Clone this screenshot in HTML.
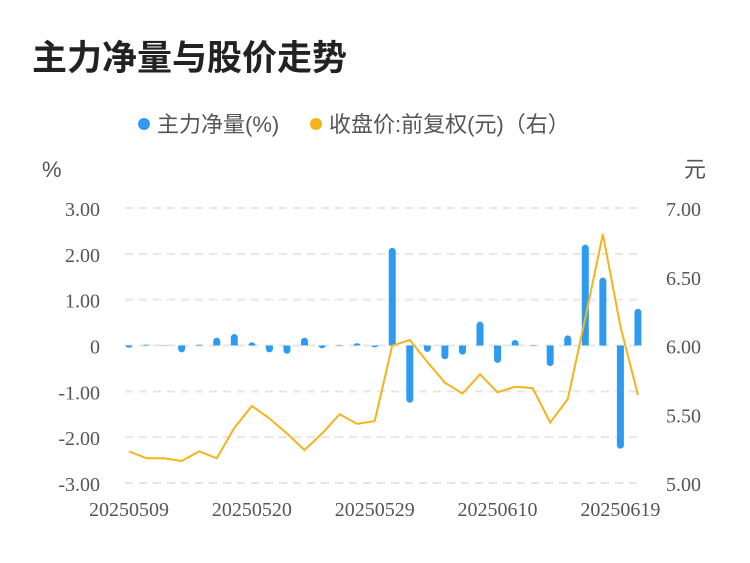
<!DOCTYPE html>
<html><head><meta charset="utf-8"><style>
body{margin:0;background:#fff;width:750px;height:558px;overflow:hidden;font-family:"Liberation Sans","Noto Sans CJK SC",sans-serif}
</style></head><body>
<svg width="750" height="558" xmlns="http://www.w3.org/2000/svg">
<text x="32" y="70" font-size="35" font-weight="bold" fill="#222" font-family="Liberation Sans,Noto Sans CJK SC,sans-serif">主力净量与股价走势</text>
<g font-size="22" fill="#555" font-family="Liberation Sans,Noto Sans CJK SC,sans-serif">
<circle cx="144" cy="124" r="6" fill="#2e9bf0"/>
<text x="157" y="132">主力净量(%)</text>
<circle cx="316" cy="124" r="6" fill="#f6b31b"/>
<text x="329" y="132">收盘价:前复权(元)（右）</text>
</g>
<text x="42" y="177" font-size="22" fill="#555">%</text>
<text x="684" y="177" font-size="22" fill="#555" font-family="Liberation Sans,Noto Sans CJK SC,sans-serif">元</text>
<g id="grid"></g><g id="bars"></g><g id="line"></g><g id="axes"></g>
</svg>
<script>
const categories=["20250509","","","","","","","20250520","","","","","","","20250529","","","","","","","20250610","","","","","","","20250619",""];
const netValues=[-0.05,0.02,0.01,-0.15,0.02,0.17,0.25,0.07,-0.15,-0.18,0.17,-0.06,0.01,0.05,-0.04,2.13,-1.25,-0.14,-0.3,-0.2,0.52,-0.38,0.12,0.01,-0.45,0.22,2.2,1.48,-2.25,0.8];
const priceValues=[5.23,5.18,5.18,5.16,5.23,5.18,5.40,5.56,5.47,5.36,5.24,5.36,5.50,5.43,5.45,6.00,6.04,5.88,5.73,5.65,5.79,5.66,5.70,5.69,5.44,5.61,6.20,6.81,6.14,5.64];
const leftTicks=[3,2,1,0,-1,-2,-3];
const leftTickLabels=["3.00","2.00","1.00","0","-1.00","-2.00","-3.00"];
const rightTickLabels=["7.00","6.50","6.00","5.50","5.00"];
const rightTicks=[7,6.5,6,5.5,5];
const NS="http://www.w3.org/2000/svg";
const yL=v=>345.5-v*45.83;
const yR=v=>208+(7-v)*137.5;
const xP=i=>129+i*17.55;
function mk(t,a,p){const e=document.createElementNS(NS,t);for(const k in a)e.setAttribute(k,a[k]);document.getElementById(p).appendChild(e);return e;}
leftTicks.forEach((v,i)=>{
 const g=mk('line',{x1:125,x2:640,y1:yL(v),y2:yL(v),stroke:'#e6e6e6','stroke-width':2,'stroke-dasharray':'8,6'},'grid');
 
 
 const t=mk('text',{x:100,y:yL(v)+8,'font-size':20,fill:'#555','text-anchor':'end','font-family':'Liberation Serif,serif'},'axes');
 t.textContent=leftTickLabels[i];
 
 
});
rightTicks.forEach((v,i)=>{
 const t=mk('text',{x:666,y:yR(v)+8,'font-size':20,fill:'#555','font-family':'Liberation Serif,serif'},'axes');
 t.textContent=rightTickLabels[i];
 
 
});
categories.forEach((c,i)=>{
 if(!c)return;
 const t=mk('text',{x:xP(i),y:516,'font-size':20,fill:'#555','text-anchor':'middle','font-family':'Liberation Serif,serif'},'axes');
 t.textContent=c;
 
 
});
netValues.forEach((v,i)=>{
 const y0=yL(0),y1=yL(v),h=Math.abs(y1-y0);
 const r=Math.min(3.5,h);
 const x=xP(i)-3.5,top=Math.min(y0,y1);
 let d;
 if(v>=0)d=`M${x},${y0}V${top+r}A3.5,${r} 0 0 1 ${x+7},${top+r}V${y0}Z`;
 else d=`M${x},${y0}V${y1-r}A3.5,${r} 0 0 0 ${x+7},${y1-r}V${y0}Z`;
 const b=mk('path',{d:d,fill:'#2e9bf0'},'bars');
 
 
});
const pl=mk('polyline',{points:priceValues.map((v,i)=>xP(i)+','+yR(v)).join(' '),fill:'none',stroke:'#f6b31b','stroke-width':2},'line');


</script>
</body></html>
